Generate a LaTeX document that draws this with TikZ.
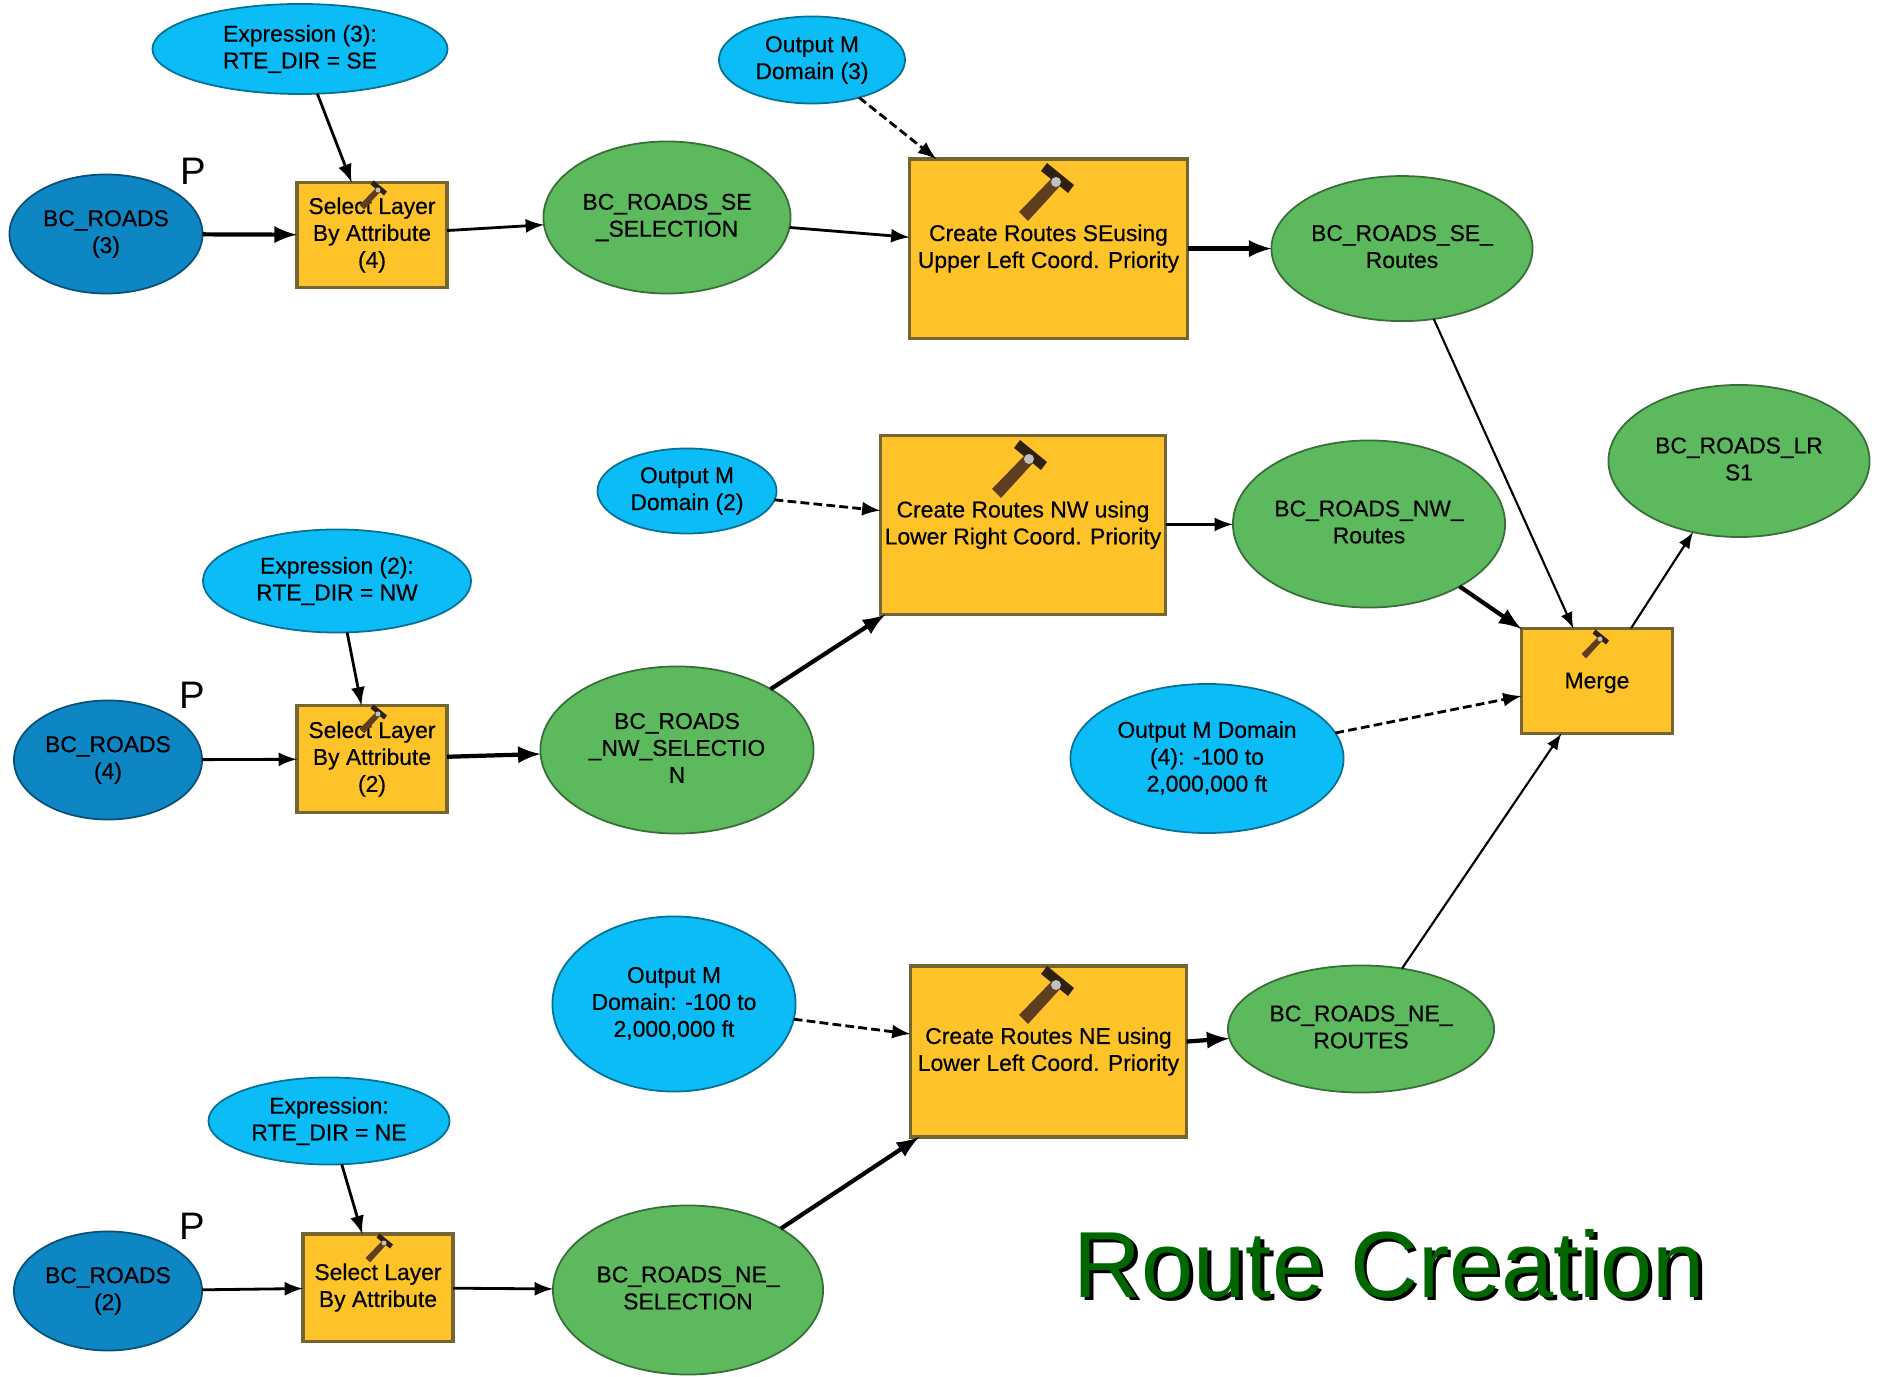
\documentclass[tikz,border=0pt]{standalone}
\usepackage{fontspec}
\setmainfont{Liberation Sans}
\newfontfamily\modelfont[FakeBold=.5]{Liberation Sans}
\usetikzlibrary{shapes.geometric}
\definecolor{paramblue}{HTML}{0CBCF6}
\definecolor{inputblue}{HTML}{0E86C4}
\definecolor{outputgreen}{HTML}{5DB95D}
\definecolor{toolorange}{HTML}{FDC329}
\tikzset{
	modeltext/.style={inner sep=0pt,outer sep=0pt,align=center,font=\modelfont\fontsize{6.5}{7.65}\selectfont,
		execute at begin node=\rule{0pt}{7.8pt},execute at end node=\rule[-1.2pt]{0pt}{0pt}},
	param/.style={ellipse,modeltext,draw=paramblue!60!black,fill=paramblue,line width=.5pt},
	input/.style={param,draw=inputblue!60!black,fill=inputblue},
	output/.style={param,draw=outputgreen!60!black,fill=outputgreen},
	tool/.style={rectangle,modeltext,draw=toolorange!45!black!70!gray,fill=toolorange,line width=.9pt},
	conn/.style={-latex,line width=.8pt},
	connthick/.style={-latex,line width=1.2pt},
	connthin/.style={-latex,line width=.6pt},
	connparam/.style={-latex,line width=.8pt,dash pattern=on 2.5pt off 1.2pt},
	marker/.style={inner sep=0pt,font=\fontsize{10.9}{12}\selectfont},
	hammer/.pic={
		\fill[black!30!brown!70!black] (-37,30) -- (-28,39) -- (4,4) -- (-4,-4) -- cycle;
		\fill[black!75!brown] (-15,-11) -- (-9,-19) -- (18,3) -- (12,11) -- cycle;
		\fill[gray!50] (0,0) circle (5);
	}
}

\begin{document}
\begin{tikzpicture}[x=.01cm,y=-.01cm]
	\useasboundingbox (0,0) rectangle (1879,1377);

	% upper row
	\node[param,minimum width=2.95cm,minimum height=.9cm] (exprSE) at (300,49) {Expression (3):\\RTE\_DIR = SE};
	\node[param,minimum width=1.86cm,minimum height=.87cm] (domainSE) at (812,60) {Output M\\Domain (3)};
	\node[input,minimum width=1.93cm,minimum height=1.19cm] (roadsSE) at (106,234) {BC\_ROADS\\(3)};
	\node[tool,minimum width=1.5cm,minimum height=1.05cm] (selectSE) at (372,235) {Select Layer\\By Attribute\\(4)};
	\node[output,minimum width=2.47cm,minimum height=1.52cm] (selectionSE) at (667,217.5) {BC\_ROADS\_SE\\\_SELECTION};
	\node[tool,minimum width=2.78cm,minimum height=1.79cm] (createSE) at (1048.5,248.6) {Create Routes SEusing\\Upper Left Coord. Priority};
	\node[output,minimum width=2.61cm,minimum height=1.45cm] (routesSE) at (1402,248.6) {BC\_ROADS\_SE\_\\Routes};

	% middle row
	\node[param,minimum width=2.68cm,minimum height=1.03cm] (exprNW) at (337,581) {Expression (2):\\RTE\_DIR = NW};
	\node[param,minimum width=1.79cm,minimum height=.85cm] (domainNW) at (687,491) {Output M\\Domain (2)};
	\node[input,minimum width=1.88cm,minimum height=1.19cm] (roadsNW) at (108,760) {BC\_ROADS\\(4)};
	\node[tool,minimum width=1.5cm,minimum height=1.07cm] (selectNW) at (372,759) {Select Layer\\By Attribute\\(2)};
	\node[output,minimum width=2.73cm,minimum height=1.67cm] (selectionNW) at (677,750) {BC\_ROADS\\\_NW\_SELECTIO\\N};
	\node[tool,minimum width=2.85cm,minimum height=1.79cm] (createNW) at (1023,525) {Create Routes NW using\\Lower Right Coord. Priority};
	\node[output,minimum width=2.72cm,minimum height=1.67cm] (routesNW) at (1369,524) {BC\_ROADS\_NW\_\\Routes};

	% lower row
	\node[param,minimum width=2.41cm,minimum height=.87cm] (exprNE) at (329,1121) {Expression:\\RTE\_DIR = NE};
	\node[param,minimum width=2.43cm,minimum height=1.75cm] (domainNE) at (674,1004) {Output M\\Domain: -100 to\\2,000,000 ft};
	\node[input,minimum width=1.88cm,minimum height=1.19cm] (roadsNE) at (108,1291) {BC\_ROADS\\(2)};
	\node[tool,minimum width=1.5cm,minimum height=1.07cm] (selectNE) at (378,1287.6) {Select Layer\\By Attribute};
	\node[output,minimum width=2.7cm,minimum height=1.69cm] (selectionNE) at (688,1290) {BC\_ROADS\_NE\_\\SELECTION};
	\node[tool,minimum width=2.76cm,minimum height=1.71cm] (createNE) at (1048.5,1051.5) {Create Routes NE using\\Lower Left Coord. Priority};
	\node[output,minimum width=2.66cm,minimum height=1.27cm] (routesNE) at (1361,1029) {BC\_ROADS\_NE\_\\ROUTES};

	% merge
	\node[param,minimum width=2.73cm,minimum height=1.49cm] (domainMerge) at (1207,758.5) {Output M Domain\\(4): -100 to\\2,000,000 ft};
	\node[tool,minimum width=1.51cm,minimum height=1.05cm] (merge) at (1597,681) {\raisebox{1.2pt}{Merge}};
	\node[output,minimum width=2.61cm,minimum height=1.52cm] (roadsLRS) at (1739,461) {BC\_ROADS\_LR\\S1};

	% the hammers
	\path (1056,182) pic {hammer};
	\path (1029,459) pic {hammer};
	\path (1056,985) pic {hammer};
	\path (378,190) pic[scale=.5] {hammer};
	\path (378,714) pic[scale=.5] {hammer};
	\path (384,1243) pic[scale=.5] {hammer};
	\path (1600,639) pic[scale=.5] {hammer};

	\node[marker] (markerSE) at (193,171) {P};
	\node[marker] (markerNW) at (192,695) {P};
	\node[marker] (markerNE) at (192,1226) {P};

	\draw[conn] (exprSE) -- (selectSE);
	\draw[connthick] (roadsSE) -- (selectSE);
	\draw[conn] (selectSE) -- (selectionSE);
	\draw[conn] (selectionSE) -- (createSE);
	\draw[connparam] (domainSE) -- (createSE);
	\draw[connthick] (createSE) -- (routesSE);
	\draw[connthin] (routesSE) -- (merge);

	\draw[conn] (exprNW) -- (selectNW);
	\draw[conn] (roadsNW) -- (selectNW);
	\draw[connthick] (selectNW) -- (selectionNW);
	\draw[connthick] (selectionNW) -- (createNW);
	\draw[connparam] (domainNW) -- (createNW);
	\draw[conn] (createNW) -- (routesNW);
	\draw[connthick] (routesNW) -- (merge);

	\draw[conn] (exprNE) -- (selectNE);
	\draw[conn] (roadsNE) -- (selectNE);
	\draw[conn] (selectNE) -- (selectionNE);
	\draw[connthick] (selectionNE) -- (createNE);
	\draw[connparam] (domainNE) -- (createNE);
	\draw[connthick] (createNE) -- (routesNE);
	\draw[connthin] (routesNE) -- (merge);

	\draw[connparam] (domainMerge) -- (merge);
	\draw[connthin] (merge) -- (roadsLRS);

	% title with its shadow
	\node[anchor=base,inner sep=0pt,font=\fontsize{26.7}{30}\selectfont] (titleshadow) at (1393,1300) {Route Creation};
	\node[anchor=base,inner sep=0pt,text=green!40!black,font=\fontsize{26.7}{30}\selectfont] (title) at (1389.5,1297) {Route Creation};
\end{tikzpicture}
\end{document}
